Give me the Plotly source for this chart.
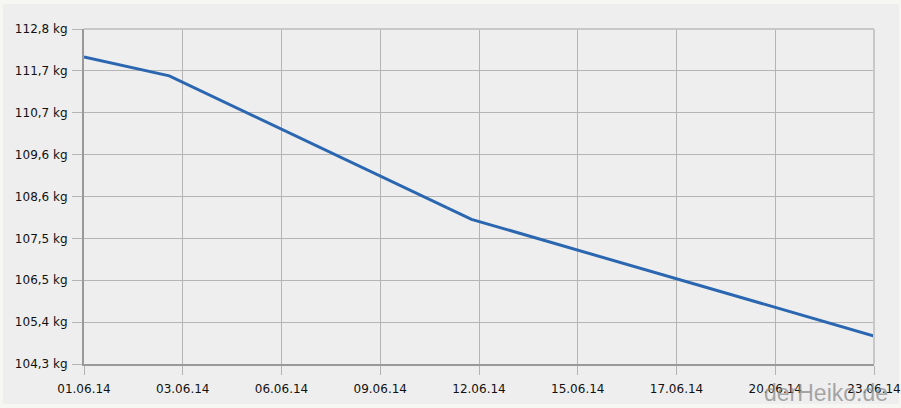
import plotly.graph_objects as go

# data
dates = ["2014-06-01 00:00", "2014-06-03 09:00", "2014-06-11 19:00", "2014-06-23 00:00"]
weights = [112.09, 111.61, 107.97, 105.01]

x_tick_vals = ["2014-06-01 00:00", "2014-06-03 18:00", "2014-06-06 12:00", "2014-06-09 06:00",
               "2014-06-12 00:00", "2014-06-14 18:00", "2014-06-17 12:00", "2014-06-20 06:00",
               "2014-06-23 00:00"]
x_tick_text = ["01.06.14", "03.06.14", "06.06.14", "09.06.14", "12.06.14",
               "15.06.14", "17.06.14", "20.06.14", "23.06.14"]
y_tick_vals = [104.3, 105.3625, 106.425, 107.4875, 108.55, 109.6125, 110.675, 111.7375, 112.8]
y_tick_text = ["104,3 kg", "105,4 kg", "106,5 kg", "107,5 kg", "108,6 kg",
               "109,6 kg", "110,7 kg", "111,7 kg", "112,8 kg"]

fig = go.Figure()
fig.add_trace(go.Scatter(x=dates, y=weights, mode="lines",
                         line=dict(color="#2b67b0", width=3), hoverinfo="skip"))

font = dict(family="DejaVu Sans", size=12, color="#111111")

fig.update_layout(
    width=901, height=408,
    margin=dict(l=84, r=27, t=29, b=44, autoexpand=False),
    paper_bgcolor="#f6f6f2",
    plot_bgcolor="#eeeeee",
    showlegend=False,
    font=font,
    xaxis=dict(
        type="date", range=["2014-06-01 00:00", "2014-06-23 00:00"],
        tickmode="array", tickvals=x_tick_vals, ticktext=x_tick_text,
        showgrid=True, gridcolor="#b4b4b4", gridwidth=1,
        showline=True, linecolor="#999999", linewidth=2,
        ticks="outside", ticklen=9, tickcolor="#b4b4b4", tickwidth=1,
        zeroline=False, tickfont=font, ticklabelstandoff=4, automargin=False,
    ),
    yaxis=dict(
        range=[104.3, 112.8],
        tickmode="array", tickvals=y_tick_vals, ticktext=y_tick_text,
        showgrid=True, gridcolor="#b4b4b4", gridwidth=1,
        showline=True, linecolor="#999999", linewidth=2,
        ticks="outside", ticklen=10, tickcolor="#b4b4b4", tickwidth=1,
        zeroline=False, tickfont=font, ticklabelstandoff=2, automargin=False,
    ),
    shapes=[
        dict(type="rect", xref="paper", yref="paper",
             x0=-0.1025, x1=1.0316, y0=-0.1194, y1=1.0746,
             fillcolor="#eeeeee", line=dict(width=0), layer="below"),
        dict(type="line", xref="paper", yref="paper", x0=0, x1=1, y0=1, y1=1,
             line=dict(color="#c8c8c8", width=2)),
        dict(type="line", xref="paper", yref="paper", x0=1, x1=1, y0=0, y1=1,
             line=dict(color="#c8c8c8", width=2)),
    ],
    annotations=[
        dict(text="derHeiko.de", xref="paper", yref="paper", x=0.939, y=-0.087,
             xanchor="center", yanchor="middle", showarrow=False,
             font=dict(family="Liberation Sans", size=23, color="rgba(140,140,140,0.75)")),
    ],
)

fig.write_html("out.html", config={"displayModeBar": False},
               post_script="document.body.style.margin='0';document.body.style.overflow='hidden';")
